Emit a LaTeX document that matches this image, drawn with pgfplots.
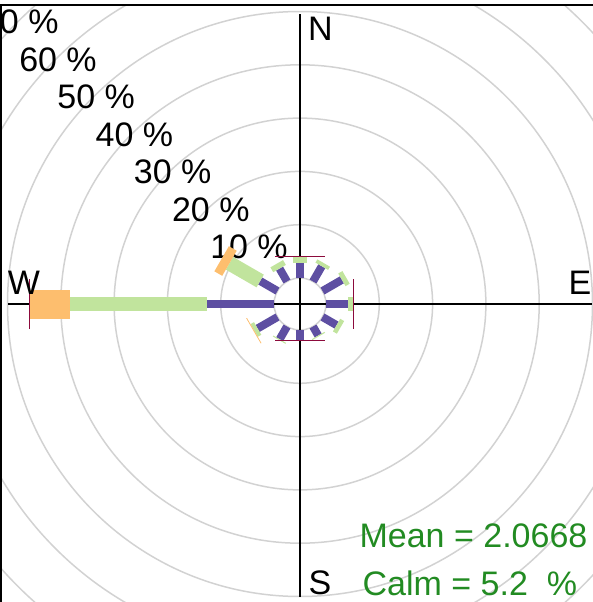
\documentclass[border=0pt]{standalone}
\usepackage{pgfplots}
\pgfplotsset{compat=1.18}
\usepackage{pgfplotstable}
\usepackage{fontspec}
\setmainfont{Liberation Sans}
\definecolor{purp}{RGB}{94,79,162}
\definecolor{lgreen}{RGB}{193,228,157}
\definecolor{orng}{RGB}{253,190,110}
\definecolor{maroonl}{RGB}{140,10,60}
\definecolor{gridgray}{RGB}{210,210,210}
\definecolor{txtgreen}{RGB}{34,139,34}

% dir (deg clockwise from N), cumulative start and end in percent
\pgfplotstableread{
dir p0 p1
0 0 2.9
30 0 3.3
60 0 4.2
90 0 4.2
120 0 3.05
150 0 1.95
180 0 1.9
210 0 2.75
240 0 4.3
270 0 12.6
300 0 3.75
330 0 2.8
}\purpletab
\pgfplotstableread{
dir p0 p1
0 2.9 3.9
30 3.3 4.0
60 4.2 5.1
90 4.2 5.0
120 3.05 3.9
150 1.95 2.15
210 2.75 2.95
240 4.3 5.05
270 12.6 38.3
300 3.75 10.4
330 2.8 3.85
}\greentab
\pgfplotstableread{
dir p0 p1
240 5.05 5.2
270 38.3 45.8
300 10.4 12.1
}\orangetab
\pgfplotstableread{
dir p
0 4.0
90 5.1
180 2.05
270 45.9
}\maroontab

\pgfplotsset{
  paddle/.style={
    quiver={
      u={5.33*(\thisrow{p1}-\thisrow{p0})*sin(\thisrow{dir})},
      v={5.33*(\thisrow{p1}-\thisrow{p0})*cos(\thisrow{dir})}},
  },
}

\begin{document}
\begin{tikzpicture}[font=\fontsize{17}{20}\selectfont]
\begin{axis}[
  width=296.5pt, height=301pt, scale only axis,
  xmin=-300, xmax=293, ymin=-298, ymax=304,
  axis lines=none, clip=false,
]
\coordinate (bl) at (axis cs:-300,-298);
\coordinate (tr) at (axis cs:293,304);
\begin{scope}
\clip (axis cs:-298.5,-298) rectangle (axis cs:293,299);
\draw[gridgray, line width=0.75pt] (axis cs:0,0) circle[radius=26];
\draw[gridgray, line width=0.75pt] (axis cs:0,0) circle[radius=79.3];
\draw[gridgray, line width=0.75pt] (axis cs:0,0) circle[radius=132.6];
\draw[gridgray, line width=0.75pt] (axis cs:0,0) circle[radius=185.9];
\draw[gridgray, line width=0.75pt] (axis cs:0,0) circle[radius=239.2];
\draw[gridgray, line width=0.75pt] (axis cs:0,0) circle[radius=292.5];
\draw[gridgray, line width=0.75pt] (axis cs:0,0) circle[radius=345.8];
\draw[gridgray, line width=0.75pt] (axis cs:0,0) circle[radius=399.1];
\node[inner sep=0] at (axis cs:-51,57) {10 \%};
\node[inner sep=0] at (axis cs:-89.2,94.5) {20 \%};
\node[inner sep=0] at (axis cs:-127.4,132) {30 \%};
\node[inner sep=0] at (axis cs:-165.6,169.5) {40 \%};
\node[inner sep=0] at (axis cs:-203.8,207) {50 \%};
\node[inner sep=0] at (axis cs:-242,244.5) {60 \%};
\node[inner sep=0] at (axis cs:-280.2,282) {70 \%};
\draw[black, line width=0.65pt] (axis cs:0,290) -- (axis cs:0,-293);
\draw[black, line width=0.65pt] (axis cs:-292,0) -- (axis cs:292,0);
\end{scope}

\addplot[draw=purp, line width=4pt, paddle]
  table[x expr={(26+5.33*\thisrow{p0})*sin(\thisrow{dir})},
        y expr={(26+5.33*\thisrow{p0})*cos(\thisrow{dir})}] {\purpletab};
\addplot[draw=lgreen, line width=7.3pt, paddle]
  table[x expr={(26+5.33*\thisrow{p0})*sin(\thisrow{dir})},
        y expr={(26+5.33*\thisrow{p0})*cos(\thisrow{dir})}] {\greentab};
\addplot[draw=orng, line width=14.5pt, paddle]
  table[x expr={(26+5.33*\thisrow{p0})*sin(\thisrow{dir})},
        y expr={(26+5.33*\thisrow{p0})*cos(\thisrow{dir})}] {\orangetab};
\addplot[draw=maroonl, line width=0.55pt,
  quiver={u={50*cos(\thisrow{dir})}, v={-50*sin(\thisrow{dir})}}]
  table[x expr={(26+5.33*\thisrow{p})*sin(\thisrow{dir})-25*cos(\thisrow{dir})},
        y expr={(26+5.33*\thisrow{p})*cos(\thisrow{dir})+25*sin(\thisrow{dir})}] {\maroontab};

\node[inner sep=0] at (axis cs:20.3,275.2) {N};
\node[inner sep=0] at (axis cs:280,20.7) {E};
\node[inner sep=0] at (axis cs:20,-279) {S};
\node[inner sep=0] at (axis cs:-276.2,20.7) {W};

\node[anchor=base west, inner sep=0, text=txtgreen] at (axis cs:59.2,-243.3) {Mean = 2.0668};
\node[anchor=base west, inner sep=0, text=txtgreen] at (axis cs:62.3,-291) {Calm = 5.2\ \ \%};

\draw[black, line width=1.15pt] (axis cs:-300,298.7) -- (axis cs:293,298.7);
\draw[black, line width=1.25pt] (axis cs:-298.75,299.3) -- (axis cs:-298.75,-298);
\end{axis}
\pgfresetboundingbox
\useasboundingbox (bl) rectangle (tr);
\end{tikzpicture}
\end{document}
